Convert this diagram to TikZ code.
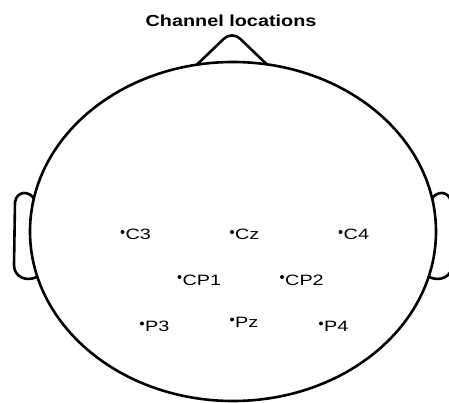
\documentclass[tikz,border=0pt]{standalone}
\usepackage{fontspec}
\usepackage{graphicx}
\setmainfont{Liberation Sans}
\usepackage{tikz}
\usetikzlibrary{positioning}

\newcommand{\widetxt}[2]{\scalebox{#1}[1]{#2}}

\begin{document}
\begin{tikzpicture}[
  x=1pt, y=-1pt,
  outline/.style = {draw, line width=2.6pt, line join=round, line cap=round},
  elec/.style    = {circle, fill=black, inner sep=0pt, minimum size=4pt},
  elab/.style    = {font=\fontsize{15}{15}\selectfont, inner sep=0pt, anchor=base west},
  ttl/.style     = {font=\fontsize{16}{16}\selectfont\bfseries, inner sep=0pt, anchor=base}
]
\useasboundingbox (0,0) rectangle (449,403);

% ---- title ----------------------------------------------------------------
\node[ttl] (title) at (231,27) {\widetxt{1.24}{Channel locations}};

% ---- head, nose, ears -----------------------------------------------------
\coordinate (ctr) at (233,231.5);
\draw[outline] (ctr) ellipse [x radius=203pt, y radius=169.5pt];
\draw[outline, rounded corners=11pt] (197,64.5) -- (232,31) -- (267,64.5);
\draw[outline] (34,199) .. controls (30,191) and (17,190) .. (15,202)
  -- (14,265) .. controls (14,277) and (26,282) .. (37,277);
\draw[outline] (432,199) .. controls (436,191) and (449,190) .. (451,202)
  -- (452,265) .. controls (452,277) and (440,282) .. (429,277);

% ---- electrodes -----------------------------------------------------------
\foreach \name/\px/\py in {C3/122.5/232, Cz/232/232, C4/340.5/232,
                           CP1/179.5/277, CP2/282/277,
                           P3/142/323.5, Pz/232/319.5, P4/321/323.5}{
  \node[elec] (\name) at (\px,\py) {};
  \node[elab] (\name-lbl) at ([xshift=3pt, yshift=-8pt]\name.center)
    {\widetxt{1.32}{\name}};
}

\end{tikzpicture}
\end{document}
